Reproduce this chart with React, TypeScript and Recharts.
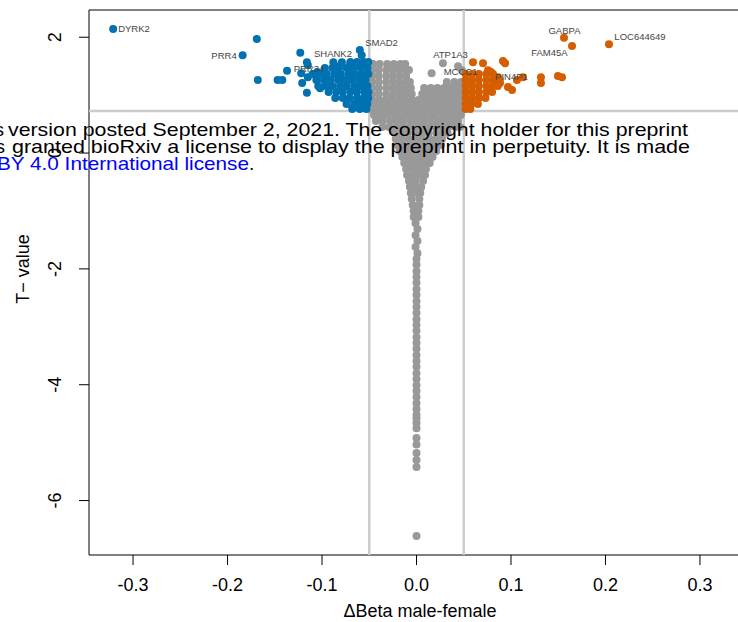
import { ScatterChart, Scatter, XAxis, YAxis, ReferenceLine, ReferenceArea } from "recharts";

type Pt = [number, number];
type Row = [number, number[]];

const xTicks = [-0.3, -0.2, -0.1, 0, 0.1, 0.2, 0.3];
const yTicks = [2, 0, -2, -4, -6];
const xDomain: [number, number] = [-0.3466, 0.3466];
const yDomain: [number, number] = [-6.94, 2.47];
const betaCut = 0.05;
const tCut = 0.725;

const geneLabels = [
  { name: "DYRK2", x: -0.299, y: 2.14 },
  { name: "PRR4", x: -0.2037, y: 1.675 },
  { name: "SHANK2", x: -0.0884, y: 1.71 },
  { name: "PRR34", x: -0.1138, y: 1.451 },
  { name: "SMAD2", x: -0.037, y: 1.9 },
  { name: "ATP1A3", x: 0.036, y: 1.693 },
  { name: "MCCC1", x: 0.0466, y: 1.399 },
  { name: "PIN4P1", x: 0.1005, y: 1.313 },
  { name: "FAM45A", x: 0.1407, y: 1.727 },
  { name: "GABPA", x: 0.1566, y: 2.107 },
  { name: "LOC644649", x: 0.2365, y: 2.003 },
];

// hypomethylated in males (left side)
const bluePoints: Pt[] = [
  [-0.321, 2.14], [-0.169, 1.97], [-0.184, 1.69], [-0.168, 1.26], [-0.147, 1.26],
  [-0.142, 1.26], [-0.137, 1.42], [-0.123, 1.73], [-0.116, 1.57], [-0.115, 1.52],
  [-0.122, 1.38], [-0.121, 1.21], [-0.115, 1.31], [-0.105, 1.4], [-0.116, 1.04],
  [-0.102, 1.12], [-0.088, 1.57], [-0.079, 1.57], [-0.083, 1.49], [-0.06, 1.78],
  [-0.058, 1.69], [-0.07, 1.55],
];
const blueRows: Row[] = [
  [1.572, [-0.07, -0.063, -0.056, -0.051]],
  [1.468, [-0.097, -0.089, -0.082, -0.074, -0.067, -0.059, -0.052]],
  [1.364, [-0.11, -0.102, -0.095, -0.087, -0.08, -0.072, -0.065, -0.058, -0.051]],
  [1.261, [-0.106, -0.098, -0.091, -0.083, -0.076, -0.069, -0.061, -0.054]],
  [1.157, [-0.104, -0.096, -0.089, -0.081, -0.074, -0.066, -0.059, -0.052]],
  [1.054, [-0.093, -0.085, -0.078, -0.07, -0.063, -0.055, -0.051]],
  [0.95, [-0.086, -0.078, -0.071, -0.063, -0.056, -0.051]],
  [0.846, [-0.074, -0.066, -0.059, -0.052]],
  [0.76, [-0.068, -0.06, -0.053]],
];

// hypermethylated in males (right side)
const orangePoints: Pt[] = [
  [0.1561, 1.99], [0.1646, 1.85], [0.2037, 1.88], [0.0598, 1.57], [0.0704, 1.55],
  [0.0915, 1.59], [0.0937, 1.55], [0.0757, 1.43], [0.0788, 1.4], [0.1127, 1.31],
  [0.1317, 1.31], [0.1317, 1.21], [0.1497, 1.33], [0.154, 1.31], [0.0884, 1.21],
  [0.0968, 1.14], [0.1011, 1.09], [0.1063, 1.26], [0.0863, 1.31],
];
const orangeRows: Row[] = [
  [1.364, [0.052, 0.059, 0.066, 0.074, 0.081]],
  [1.261, [0.052, 0.059, 0.066, 0.074, 0.081, 0.088]],
  [1.157, [0.052, 0.059, 0.066, 0.074, 0.081, 0.086]],
  [1.054, [0.052, 0.059, 0.066, 0.074, 0.08]],
  [0.95, [0.052, 0.059, 0.066, 0.073]],
  [0.846, [0.052, 0.058, 0.065]],
  [0.76, [0.052, 0.057]],
];

// not significant
const grayPoints: Pt[] = [
  [0.016, 1.38], [0.028, 1.55], [0.044, 1.5], [0.048, 1.43],
  [-0.001, -1.21], [0.001, -1.31], [-0.001, -1.42], [0.001, -1.52], [-0.001, -1.62],
  [0.001, -1.73], [0, -1.83], [0, -1.93], [0, -2.04], [0, -2.14], [0, -2.24],
  [0, -2.35], [0, -2.45], [0, -2.56], [0, -2.66], [0, -2.76], [0, -2.87], [0, -2.97],
  [0, -3.07], [0, -3.18], [0, -3.28], [0, -3.38], [0, -3.49], [0, -3.59], [0, -3.69],
  [0, -3.8], [0, -3.9], [0, -4.01], [0, -4.11], [0, -4.21], [0, -4.32], [0, -4.42],
  [0, -4.52], [0, -4.58], [0, -4.66], [0, -4.75], [0, -4.92], [0, -5.03], [0, -5.18],
  [0, -5.3], [0, -5.42], [0, -6.61],
];
const grayRows: Row[] = [
  [1.537, [-0.046, -0.039, -0.031, -0.024, -0.017, -0.012]],
  [1.433, [-0.047, -0.04, -0.032, -0.025, -0.018, -0.011, -0.008]],
  [1.33, [-0.047, -0.04, -0.032, -0.025, -0.018, -0.011]],
  [1.226, [-0.047, -0.04, -0.032, -0.025, -0.018, -0.011, -0.007, 0.032, 0.04, 0.047]],
  [1.123, [-0.047, -0.04, -0.032, -0.025, -0.018, -0.011, -0.006, 0.008, 0.015, 0.022, 0.029, 0.036, 0.043, 0.048]],
  [1.019, [-0.047, -0.04, -0.032, -0.025, -0.018, -0.011, -0.005, 0.006, 0.013, 0.02, 0.027, 0.034, 0.041, 0.047]],
  [0.915, [-0.047, -0.04, -0.033, -0.026, -0.019, -0.012, -0.005, 0.002, 0.009, 0.016, 0.023, 0.03, 0.037, 0.044, 0.048]],
  [0.812, [-0.044, -0.037, -0.03, -0.022, -0.015, -0.008, -0.001, 0.006, 0.013, 0.02, 0.027, 0.034, 0.041, 0.047]],
  [0.743, [-0.047, -0.04, -0.033, -0.026, -0.019, -0.012, -0.005, 0.002, 0.009, 0.016, 0.023, 0.03, 0.037, 0.044, 0.048]],
  [0.656, [-0.045, -0.038, -0.031, -0.023, -0.016, -0.009, -0.002, 0.005, 0.012, 0.019, 0.027, 0.034, 0.041, 0.047]],
  [0.553, [-0.043, -0.036, -0.028, -0.021, -0.014, -0.006, 0.001, 0.008, 0.016, 0.023, 0.03, 0.037, 0.044]],
  [0.449, [-0.036, -0.029, -0.022, -0.015, -0.008, -0.001, 0.006, 0.013, 0.02, 0.027, 0.034, 0.041, 0.046]],
  [0.345, [-0.023, -0.016, -0.009, -0.001, 0.006, 0.013, 0.021, 0.028, 0.033]],
  [0.242, [-0.022, -0.015, -0.008, -0.001, 0.006, 0.013, 0.02, 0.027]],
  [0.138, [-0.021, -0.014, -0.007, 0, 0.007, 0.014, 0.021, 0.026]],
  [0.035, [-0.018, -0.011, -0.004, 0.003, 0.01, 0.016, 0.021]],
  [-0.069, [-0.015, -0.008, -0.001, 0.006, 0.012, 0.017]],
  [-0.173, [-0.013, -0.006, 0.001, 0.008, 0.014]],
  [-0.276, [-0.011, -0.004, 0.003, 0.01]],
  [-0.38, [-0.01, -0.003, 0.004, 0.009]],
  [-0.484, [-0.008, -0.001, 0.007]],
  [-0.587, [-0.007, 0, 0.005]],
  [-0.691, [-0.006, 0.001, 0.004]],
  [-0.794, [-0.005, 0.003]],
  [-0.898, [-0.004, 0.003]],
  [-1.002, [-0.003, 0.002]],
  [-1.105, [-0.003, 0.002]],
];

const toData = (pts: Pt[], rows: Row[]) =>
  [...pts, ...rows.flatMap(([y, xs]) => xs.map((x) => [x, y] as Pt))].map(([x, y]) => ({ x, y }));

const grayData = toData(grayPoints, grayRows);
const blueData = toData(bluePoints, blueRows);
const orangeData = toData(orangePoints, orangeRows);

const FONT = "'Liberation Sans', Arial, Helvetica, sans-serif";

const dot = (fill: string) => (p: any) => <circle cx={p.cx} cy={p.cy} r={4} fill={fill} />;

const LabelShape = (p: any) => (
  <text x={p.cx} y={p.cy} dy="0.35em" textAnchor="middle" fontSize={9.5} fill="#444" fontFamily={FONT}>
    {p.payload.name}
  </text>
);

const XTick = (p: any) => (
  <text x={p.x} y={p.y + 24} textAnchor="middle" fontSize={18} fill="#000" fontFamily={FONT}>
    {p.payload.value === 0 ? "0.0" : p.payload.value.toFixed(1)}
  </text>
);

const YTick = (p: any) => (
  <text transform={`translate(${p.x - 16},${p.y}) rotate(-90)`} textAnchor="middle" fontSize={18} fill="#000" fontFamily={FONT}>
    {p.payload.value}
  </text>
);

export default function App() {
  return (
    <div style={{ position: "absolute", left: 0, top: 0, width: 738, height: 622, overflow: "hidden", background: "#fff" }}>
      <ScatterChart width={760} height={622} margin={{ top: 10, right: 16, bottom: 0, left: 0 }}>
        <XAxis
          type="number"
          dataKey="x"
          domain={xDomain}
          ticks={xTicks}
          allowDataOverflow
          height={67}
          tickSize={10}
          axisLine={false}
          stroke="#000"
          tick={XTick}
        />
        <YAxis
          type="number"
          dataKey="y"
          domain={yDomain}
          ticks={yTicks}
          allowDataOverflow
          width={89}
          tickSize={10}
          axisLine={false}
          stroke="#000"
          tick={YTick}
        />
        <ReferenceLine x={-betaCut} stroke="#cccccc" strokeWidth={2.5} />
        <ReferenceLine x={betaCut} stroke="#cccccc" strokeWidth={2.5} />
        <ReferenceLine y={tCut} stroke="#cccccc" strokeWidth={2.5} />
        <ReferenceArea x1={xDomain[0]} x2={xDomain[1]} y1={yDomain[0]} y2={yDomain[1]} fill="none" stroke="#000" strokeWidth={1} />
        <Scatter data={grayData} shape={dot("#999999")} isAnimationActive={false} />
        <Scatter data={blueData} shape={dot("#0072B2")} isAnimationActive={false} />
        <Scatter data={orangeData} shape={dot("#D55E00")} isAnimationActive={false} />
        <Scatter data={geneLabels} shape={LabelShape} isAnimationActive={false} />
      </ScatterChart>
      <svg width={738} height={622} style={{ position: "absolute", left: 0, top: 0, pointerEvents: "none" }} fontFamily={FONT}>
        <text x={29} y={269} transform="rotate(-90 29 269)" textAnchor="middle" fontSize={18} fill="#000">
          T− value
        </text>
        <text x={420} y={617} textAnchor="middle" fontSize={18} fill="#000">
          ΔBeta male-female
        </text>
        <g fontSize={19} fill="#000">
          <text x={4} y={136} textAnchor="end">this</text>
          <text x={8} y={136} textLength={680} lengthAdjust="spacingAndGlyphs">
            version posted September 2, 2021. The copyright holder for this preprint
          </text>
          <text x={5} y={153} textAnchor="end">who has</text>
          <text x={12} y={153} textLength={678} lengthAdjust="spacingAndGlyphs">
            granted bioRxiv a license to display the preprint in perpetuity. It is made
          </text>
          <text x={-3} y={170} textAnchor="end">available under aCC-</text>
          <text x={-3} y={170} textLength={252} lengthAdjust="spacingAndGlyphs" fill="#0000ff">
            BY 4.0 International license
          </text>
          <text x={249} y={170}>.</text>
        </g>
      </svg>
    </div>
  );
}
